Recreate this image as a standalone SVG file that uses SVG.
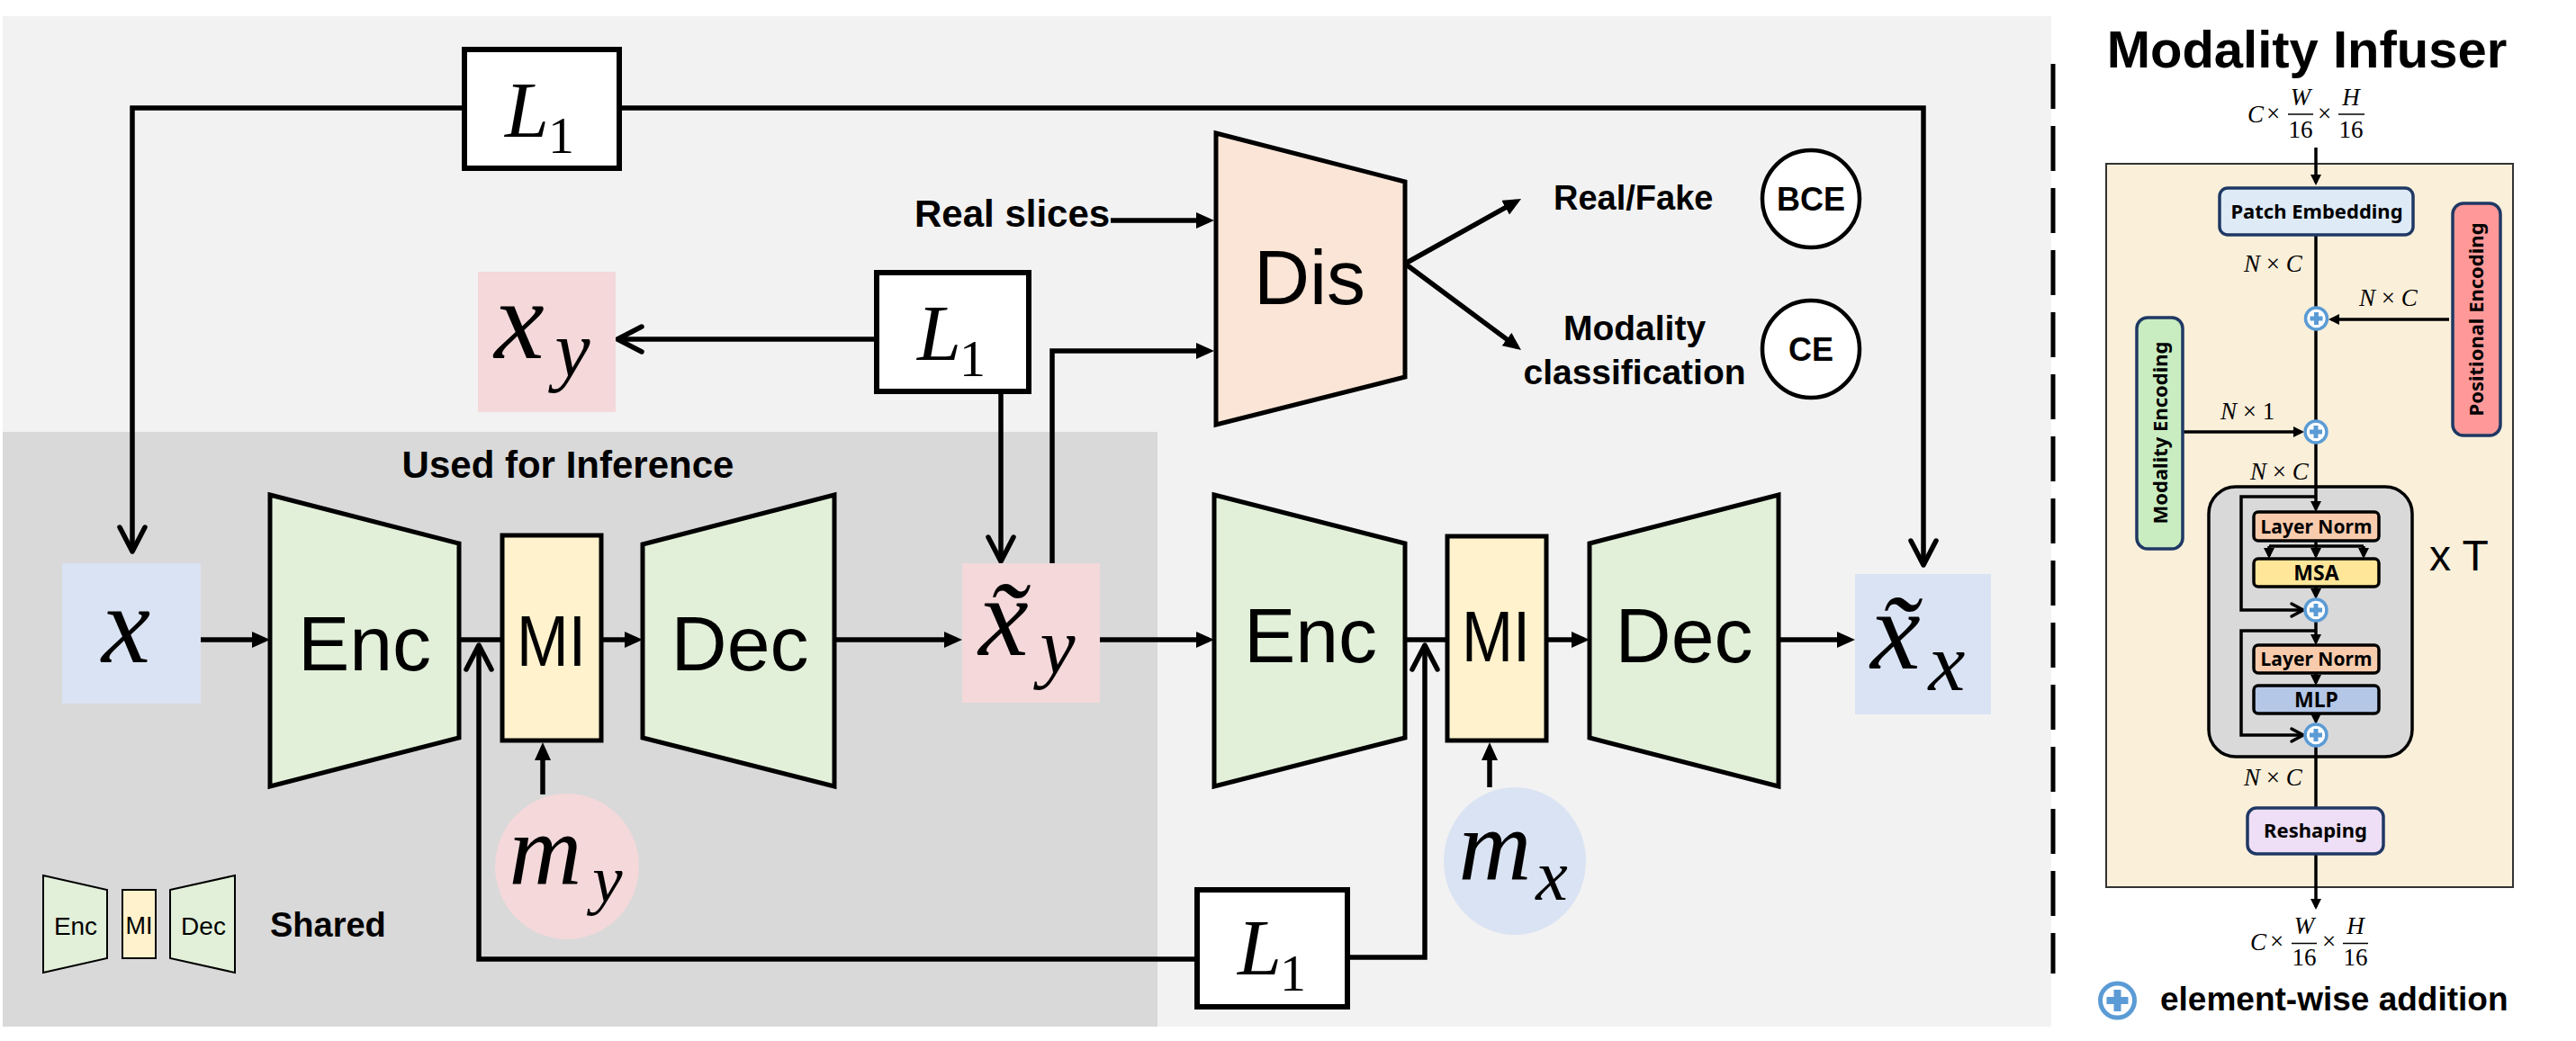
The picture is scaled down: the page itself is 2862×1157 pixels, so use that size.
<svg xmlns="http://www.w3.org/2000/svg" width="2862" height="1157" viewBox="0 0 2862 1157">
<style>
.sans{font-family:"Liberation Sans",Arial,sans-serif;fill:#000}
.b{font-weight:bold}
.blk{font-size:86px;text-anchor:middle}
.math{font-family:"Liberation Serif","Times New Roman",serif;font-style:italic;fill:#000}
.up{font-family:"Liberation Serif","Times New Roman",serif;fill:#000}
.ko{font-family:"Noto Sans",sans-serif;font-weight:bold;fill:#000;text-anchor:middle}
.ln{stroke:#000;stroke-width:5.5;fill:none}
.lt{stroke:#000;stroke-width:3.5;fill:none}
.shape{stroke:#000;stroke-width:5}
.lbox{fill:#fff;stroke:#000;stroke-width:6}
.green{fill:#e2f0d9}
.mi{fill:#fff2cc}
.pink{fill:#f4d8da}
.blue{fill:#dae3f3}
.nv{stroke:#1f3864;stroke-width:3.5}
.blk2{stroke:#000;stroke-width:3.5}
.pc{fill:#fff;stroke:#5b9bd5;stroke-width:3.5}
.pp{stroke:#5b9bd5;stroke-width:5;fill:none}
</style>
<defs>
<marker id="tri" viewBox="0 0 20 18" refX="14" refY="9" markerWidth="20" markerHeight="18" orient="auto" markerUnits="userSpaceOnUse"><path d="M0,0 L20,9 L0,18 z" fill="#000"/></marker>
<marker id="tris" viewBox="0 0 12 12" refX="9" refY="6" markerWidth="12" markerHeight="12" orient="auto" markerUnits="userSpaceOnUse"><path d="M0,0 L12,6 L0,12 z" fill="#000"/></marker>
<marker id="chev" viewBox="-32 -18 36 36" refX="0" refY="0" markerWidth="36" markerHeight="36" orient="auto" markerUnits="userSpaceOnUse"><path d="M-27,-14 L0,0 L-27,14" fill="none" stroke="#000" stroke-width="5.5" stroke-linejoin="round" stroke-linecap="round"/></marker>
<marker id="chevs" viewBox="-16 -10 20 20" refX="0" refY="0" markerWidth="20" markerHeight="20" orient="auto" markerUnits="userSpaceOnUse"><path d="M-13,-7 L0,0 L-13,7" fill="none" stroke="#000" stroke-width="3.5" stroke-linejoin="round" stroke-linecap="round"/></marker>
</defs>

<!-- backgrounds -->
<rect x="3" y="18" width="2276" height="1123" fill="#f2f2f2"/>
<rect x="3" y="480" width="1283" height="661" fill="#d9d9d9"/>
<line x1="2281" y1="71" x2="2281" y2="1082" stroke="#000" stroke-width="5" stroke-dasharray="50 19"/>
<rect x="2340" y="182" width="452" height="804" fill="#faefd9" stroke="#333" stroke-width="2"/>

<g id="tblock">
<rect x="2454" y="541" width="226" height="300" rx="30" fill="#d9d9d9" stroke="#000" stroke-width="3.5"/>
</g>

<!-- connectors -->
<g id="connectors">
<path class="ln" d="M516,120 H147 V613" marker-end="url(#chev)"/>
<path class="ln" d="M688,120 H2137 V628" marker-end="url(#chev)"/>
<path class="ln" d="M974,377 H686" marker-end="url(#chev)"/>
<path class="ln" d="M1112,438 V624" marker-end="url(#chev)"/>
<path class="ln" d="M1169,626 V390 H1343" marker-end="url(#tri)"/>
<path class="ln" d="M1234,245 H1343" marker-end="url(#tri)"/>
<path class="ln" stroke-width="6" d="M1561,293 L1684.8,223.9" marker-end="url(#tri)"/>
<path class="ln" stroke-width="6" d="M1561,293 L1685.2,385.4" marker-end="url(#tri)"/>
<path class="ln" d="M223,711 H294" marker-end="url(#tri)"/>
<path class="ln" d="M510,711 H558"/>
<path class="ln" d="M668,711 H708" marker-end="url(#tri)"/>
<path class="ln" d="M927,711 H1063" marker-end="url(#tri)"/>
<path class="ln" d="M1222,711 H1343" marker-end="url(#tri)"/>
<path class="ln" d="M1561,711 H1608"/>
<path class="ln" d="M1718,711 H1760" marker-end="url(#tri)"/>
<path class="ln" d="M1976,711 H2055" marker-end="url(#tri)"/>
<path class="ln" d="M603,883 V831" marker-end="url(#tri)"/>
<path class="ln" d="M1655,875 V831" marker-end="url(#tri)"/>
<path class="ln" d="M1330,1066 H532 V717" marker-end="url(#chev)"/>
<path class="ln" d="M1497,1064 H1583 V717" marker-end="url(#chev)"/>
<!-- infuser connectors -->
<path class="lt" d="M2573,164 V203" marker-end="url(#tris)"/>
<path class="lt" d="M2573,261 V341"/>
<path class="lt" d="M2721,355 H2590" marker-end="url(#tris)"/>
<path class="lt" d="M2573,367 V467"/>
<path class="lt" d="M2425,480 H2557" marker-end="url(#tris)"/>
<path class="lt" d="M2573,493 V566" marker-end="url(#tris)"/>
<path class="lt" d="M2573,552 H2490 V678 H2559" marker-end="url(#chevs)"/>
<path class="lt" d="M2573,601 V618" marker-end="url(#tris)"/>
<path class="lt" d="M2521,607 H2626"/>
<path class="lt" d="M2521,607 V618" marker-end="url(#tris)"/>
<path class="lt" d="M2626,607 V618" marker-end="url(#tris)"/>
<path class="lt" d="M2573,652 V663" marker-end="url(#tris)"/>
<path class="lt" d="M2573,691 V714" marker-end="url(#tris)"/>
<path class="lt" d="M2573,701 H2490 V817 H2559" marker-end="url(#chevs)"/>
<path class="lt" d="M2573,748 V759" marker-end="url(#tris)"/>
<path class="lt" d="M2573,793 V802" marker-end="url(#tris)"/>
<path class="lt" d="M2573,830 V898"/>
<path class="lt" d="M2573,949 V1008" marker-end="url(#tris)"/>
</g>

<g id="l1-top">
<rect class="lbox" x="516" y="55" width="172" height="132"/>
<text class="math" x="561" y="152" font-size="88">L</text>
<text class="up" x="609" y="170" font-size="58">1</text>
</g>
<g id="l1-mid">
<rect class="lbox" x="974" y="303" width="169" height="132"/>
<text class="math" x="1019" y="400" font-size="88">L</text>
<text class="up" x="1066" y="418" font-size="58">1</text>
</g>
<g id="l1-bot">
<rect class="lbox" x="1330" y="989" width="167" height="130"/>
<text class="math" x="1375" y="1083" font-size="88">L</text>
<text class="up" x="1422" y="1101" font-size="58">1</text>
</g>

<g id="x-y">
<rect class="pink" x="531" y="302" width="153" height="156"/>
<text class="math" x="577" y="398" font-size="125" text-anchor="middle">x</text>
<text class="math" x="636" y="418" font-size="88" text-anchor="middle">y</text>
</g>

<g id="x-in">
<rect class="blue" x="69" y="626" width="154" height="156"/>
<text class="math" x="140" y="736" font-size="122" text-anchor="middle">x</text>
</g>

<g id="enc1">
<polygon class="green shape" points="300,550 510,604 510,820 300,874"/>
<text class="sans blk" x="405" y="745">Enc</text>
</g>
<g id="mi1">
<rect class="mi shape" x="558" y="595" width="110" height="228"/>
<text class="sans" x="574" y="740" font-size="80" textLength="77" lengthAdjust="spacingAndGlyphs">MI</text>
</g>
<g id="dec1">
<polygon class="green shape" points="714,605 927,550 927,874 714,820"/>
<text class="sans blk" x="822" y="745">Dec</text>
</g>
<g id="m-y">
<ellipse class="pink" cx="630" cy="963" rx="80" ry="81"/>
<text class="math" x="606" y="983" font-size="112" text-anchor="middle">m</text>
<text class="math" x="675" y="1002" font-size="75" text-anchor="middle">y</text>
</g>

<g id="xt-y">
<rect class="pink" x="1069" y="626" width="153" height="155"/>
<text class="math" x="1115" y="728" font-size="125" text-anchor="middle">x̃</text>
<text class="math" x="1175" y="748" font-size="88" text-anchor="middle">y</text>
</g>

<g id="enc2">
<polygon class="green shape" points="1349,550 1561,604 1561,820 1349,874"/>
<text class="sans blk" x="1456" y="736">Enc</text>
</g>
<g id="mi2">
<rect class="mi shape" x="1608" y="596" width="110" height="227"/>
<text class="sans" x="1624" y="735" font-size="80" textLength="76" lengthAdjust="spacingAndGlyphs">MI</text>
</g>
<g id="dec2">
<polygon class="green shape" points="1766,604 1976,550 1976,874 1766,820"/>
<text class="sans blk" x="1871" y="736">Dec</text>
</g>
<g id="m-x">
<ellipse class="blue" cx="1683" cy="957" rx="79" ry="82"/>
<text class="math" x="1661" y="978" font-size="112" text-anchor="middle">m</text>
<text class="math" x="1724" y="1000" font-size="80" text-anchor="middle">x</text>
</g>
<g id="xt-x">
<rect class="blue" x="2061" y="638" width="151" height="156"/>
<text class="math" x="2106" y="743" font-size="125" text-anchor="middle">x̃</text>
<text class="math" x="2163" y="767" font-size="92" text-anchor="middle">x</text>
</g>

<g id="dis">
<polygon class="shape" fill="#fbe5d6" points="1351,148 1561,202 1561,419 1351,472"/>
<text class="sans" x="1455" y="338" font-size="86" text-anchor="middle">Dis</text>
</g>
<text class="sans b" x="1016" y="252" font-size="42">Real slices</text>
<text class="sans b" x="1726" y="233" font-size="38">Real/Fake</text>
<text class="sans b" x="1816" y="378" font-size="39" text-anchor="middle">Modality</text>
<text class="sans b" x="1816" y="427" font-size="39" text-anchor="middle">classification</text>
<g id="bce">
<circle cx="2012" cy="221" r="54" fill="#fff" stroke="#000" stroke-width="4.5"/>
<text class="sans b" x="2012" y="234" font-size="36" text-anchor="middle">BCE</text>
</g>
<g id="ce">
<circle cx="2012" cy="388" r="54" fill="#fff" stroke="#000" stroke-width="4.5"/>
<text class="sans b" x="2012" y="401" font-size="36" text-anchor="middle">CE</text>
</g>

<text class="sans b" x="631" y="531" font-size="42" text-anchor="middle">Used for Inference</text>

<g id="legend-shared">
<polygon class="green" stroke="#000" stroke-width="2" points="48,973 119,989 119,1065 48,1081"/>
<text class="sans" x="84" y="1039" font-size="28" text-anchor="middle">Enc</text>
<rect class="mi" stroke="#000" stroke-width="2" x="136" y="989" width="37" height="76"/>
<text class="sans" x="154.5" y="1038" font-size="27" text-anchor="middle">MI</text>
<polygon class="green" stroke="#000" stroke-width="2" points="189,989 261,973 261,1081 189,1065"/>
<text class="sans" x="226" y="1039" font-size="28" text-anchor="middle">Dec</text>
<text class="sans b" x="300" y="1041" font-size="38">Shared</text>
</g>

<!-- Modality Infuser -->
<text class="sans b" x="2563" y="75" font-size="58" text-anchor="middle">Modality Infuser</text>
<g id="dim-top">
<text class="math" x="2497" y="136" font-size="27">C</text>
<text class="up" x="2518" y="135" font-size="27">×</text>
<text class="math" x="2556" y="117" font-size="27" text-anchor="middle">W</text>
<line x1="2542" y1="127" x2="2570" y2="127" stroke="#000" stroke-width="1.5"/>
<text class="up" x="2556" y="153" font-size="27" text-anchor="middle">16</text>
<text class="up" x="2575" y="135" font-size="27">×</text>
<text class="math" x="2612" y="117" font-size="27" text-anchor="middle">H</text>
<line x1="2598" y1="127" x2="2627" y2="127" stroke="#000" stroke-width="1.5"/>
<text class="up" x="2612" y="153" font-size="27" text-anchor="middle">16</text>
</g>

<g id="patch">
<rect class="nv" fill="#deebf7" x="2466" y="209" width="215" height="52" rx="9"/>
<text class="ko" x="2574" y="243" font-size="22">Patch Embedding</text>
</g>
<g id="posenc">
<rect class="nv" fill="#ff9999" x="2725" y="226" width="53" height="258" rx="12"/>
<text class="ko" transform="translate(2759,355) rotate(-90)" font-size="22">Positional Encoding</text>
</g>
<g id="modenc">
<rect class="nv" fill="#c9edc1" x="2374" y="353" width="51" height="257" rx="12"/>
<text class="ko" transform="translate(2408,481) rotate(-90)" font-size="22">Modality Encoding</text>
</g>

<text class="math" x="2493" y="302" font-size="27">N <tspan class="up" font-style="normal">×</tspan> C</text>
<text class="math" x="2621" y="340" font-size="27">N <tspan class="up" font-style="normal">×</tspan> C</text>
<text class="math" x="2467" y="466" font-size="27">N <tspan class="up" font-style="normal">× 1</tspan></text>
<text class="math" x="2500" y="533" font-size="27">N <tspan class="up" font-style="normal">×</tspan> C</text>
<text class="math" x="2493" y="873" font-size="27">N <tspan class="up" font-style="normal">×</tspan> C</text>

<g id="plus1"><circle class="pc" cx="2573.5" cy="354" r="12"/><path class="pp" d="M2566.5,354 H2580.5 M2573.5,347 V361"/></g>
<g id="plus2"><circle class="pc" cx="2573" cy="480" r="12"/><path class="pp" d="M2566,480 H2580 M2573,473 V487"/></g>

<g id="ln1">
<rect class="blk2" fill="#f8cbad" x="2504" y="569" width="139" height="32" rx="5"/>
<text class="ko" x="2573.5" y="593" font-size="21">Layer Norm</text>
</g>
<g id="msa">
<rect class="blk2" fill="#ffe699" x="2504" y="621" width="139" height="31" rx="5"/>
<text class="ko" x="2573.5" y="645" font-size="23">MSA</text>
</g>
<g id="plus3"><circle class="pc" cx="2573" cy="678" r="12"/><path class="pp" d="M2566,678 H2580 M2573,671 V685"/></g>
<g id="ln2">
<rect class="blk2" fill="#f8cbad" x="2504" y="717" width="139" height="31" rx="5"/>
<text class="ko" x="2573.5" y="740" font-size="21">Layer Norm</text>
</g>
<g id="mlp">
<rect class="blk2" fill="#b4c7e7" x="2504" y="762" width="139" height="31" rx="5"/>
<text class="ko" x="2573.5" y="786" font-size="23">MLP</text>
</g>
<g id="plus4"><circle class="pc" cx="2573" cy="817" r="12"/><path class="pp" d="M2566,817 H2580 M2573,810 V824"/></g>
<text class="sans" x="2699" y="634" font-size="48">x T</text>

<g id="reshape">
<rect class="nv" fill="#eedff6" x="2497" y="898" width="151" height="51" rx="10"/>
<text class="ko" x="2572.5" y="931" font-size="22">Reshaping</text>
</g>

<g id="dim-bot">
<text class="math" x="2500" y="1056" font-size="27">C</text>
<text class="up" x="2522" y="1055" font-size="27">×</text>
<text class="math" x="2560" y="1038" font-size="27" text-anchor="middle">W</text>
<line x1="2546" y1="1048.5" x2="2574" y2="1048.5" stroke="#000" stroke-width="1.5"/>
<text class="up" x="2560" y="1073" font-size="27" text-anchor="middle">16</text>
<text class="up" x="2580" y="1055" font-size="27">×</text>
<text class="math" x="2617" y="1038" font-size="27" text-anchor="middle">H</text>
<line x1="2603" y1="1048.5" x2="2631" y2="1048.5" stroke="#000" stroke-width="1.5"/>
<text class="up" x="2617" y="1073" font-size="27" text-anchor="middle">16</text>
</g>

<g id="legend-plus">
<circle cx="2352.5" cy="1112" r="19" fill="#fff" stroke="#5b9bd5" stroke-width="5"/>
<path d="M2340.5,1112 H2364.5 M2352.5,1100 V1124" stroke="#5b9bd5" stroke-width="8" fill="none"/>
<text class="sans b" x="2400" y="1123" font-size="37">element-wise addition</text>
</g>
</svg>
